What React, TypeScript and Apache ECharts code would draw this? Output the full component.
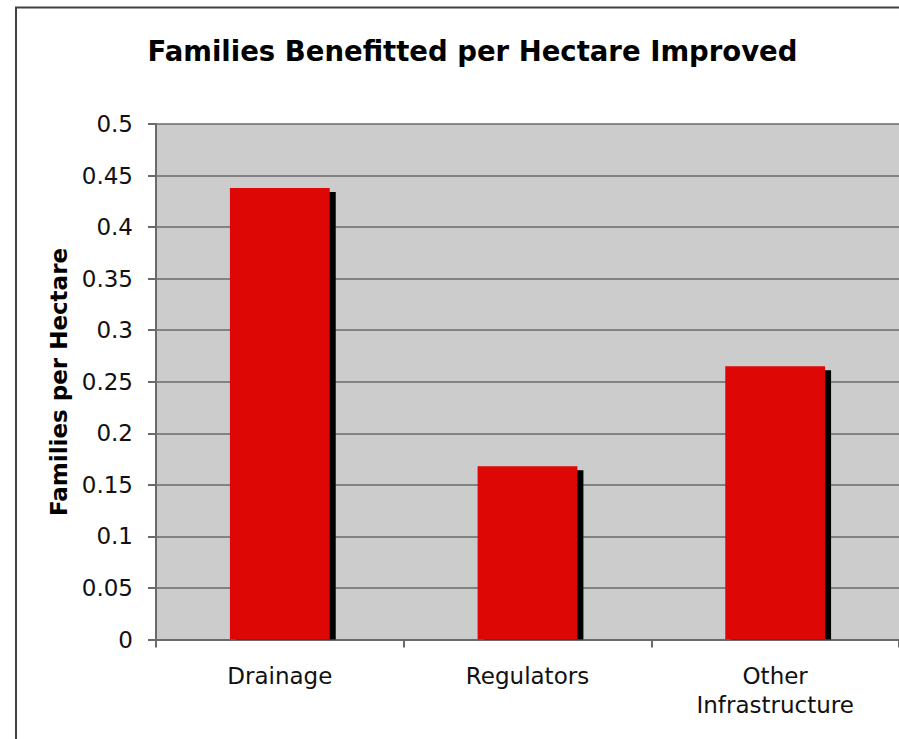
import React, { useEffect, useRef } from "react";
import * as echarts from "echarts";

// Chart data
const categories = ["Drainage", "Regulators", "Other\nInfrastructure"];
const familiesPerHectare = [0.438, 0.168, 0.265];
const yTicks = { min: 0, max: 0.5, interval: 0.05 };

const titleText = "Families Benefitted per Hectare Improved";
const yAxisTitle = "Families per Hectare";

const FONT = "'DejaVu Sans', Verdana, sans-serif";
const BAR_RED = "#dd0806";

export default function App() {
  const ref = useRef<HTMLDivElement>(null);

  useEffect(() => {
    if (!ref.current) return;
    const chart = echarts.init(ref.current, undefined, { renderer: "svg" });

    chart.setOption({
      animation: false,
      backgroundColor: "#ffffff",
      grid: {
        left: 156,
        top: 124,
        width: 744,
        height: 515.5,
        show: true,
        backgroundColor: "#cccccc",
        borderWidth: 0,
      },
      xAxis: {
        type: "category",
        data: categories,
        axisLine: { show: true, lineStyle: { color: "#6a6a6a", width: 2 } },
        axisTick: { show: true, length: 8, lineStyle: { color: "#6a6a6a", width: 2 } },
        axisLabel: {
          color: "#111111",
          fontFamily: FONT,
          fontSize: 23,
          lineHeight: 29,
          margin: 22,
          interval: 0,
        },
        splitLine: { show: false },
      },
      yAxis: {
        type: "value",
        min: yTicks.min,
        max: yTicks.max,
        interval: yTicks.interval,
        axisLine: { show: true, lineStyle: { color: "#6a6a6a", width: 2 } },
        axisTick: { show: true, length: 8, lineStyle: { color: "#6a6a6a", width: 2 } },
        axisLabel: {
          color: "#111111",
          fontFamily: FONT,
          fontSize: 23,
          margin: 23,
          formatter: (v: number) => String(Math.round(v * 100) / 100),
        },
        splitLine: { show: true, lineStyle: { color: "#6a6a6a", width: 1.5 } },
      },
      series: [
        {
          type: "custom",
          data: familiesPerHectare.map((v, i) => [i, v]),
          encode: { x: 0, y: 1 },
          renderItem: (params: any, api: any) => {
            const top = api.coord([api.value(0), api.value(1)]);
            const base = api.coord([api.value(0), 0]);
            const band = api.size([1, 0])[0];
            const w = band * 0.403;
            const x0 = top[0] - w / 2;
            return {
              type: "group",
              children: [
                // drop shadow, offset right and down
                {
                  type: "rect",
                  shape: { x: x0 + 6, y: top[1] + 4, width: w, height: base[1] - top[1] - 4 },
                  style: { fill: "#000000" },
                },
                {
                  type: "rect",
                  shape: { x: x0, y: top[1], width: w, height: base[1] - top[1] },
                  style: { fill: BAR_RED },
                },
              ],
            };
          },
        },
      ],
      graphic: [
        {
          type: "rect",
          silent: true,
          shape: { x: 16, y: 7.5, width: 1000, height: 1000 },
          style: { fill: "none", stroke: "#404040", lineWidth: 2 },
          z: 100,
        },
        {
          type: "text",
          x: 472.5,
          y: 50.5,
          style: {
            text: titleText,
            fontFamily: FONT,
            fontWeight: "bold",
            fontSize: 27.5,
            fill: "#000000",
            textAlign: "center",
            textVerticalAlign: "middle",
          },
        },
        {
          type: "text",
          x: 59,
          y: 382,
          rotation: Math.PI / 2,
          style: {
            text: yAxisTitle,
            fontFamily: FONT,
            fontWeight: "bold",
            fontSize: 23,
            fill: "#000000",
            textAlign: "center",
            textVerticalAlign: "middle",
          },
        },
      ],
    });

    return () => chart.dispose();
  }, []);

  return (
    <div
      ref={ref}
      style={{ position: "absolute", left: 0, top: 0, width: 899, height: 739 }}
    />
  );
}
